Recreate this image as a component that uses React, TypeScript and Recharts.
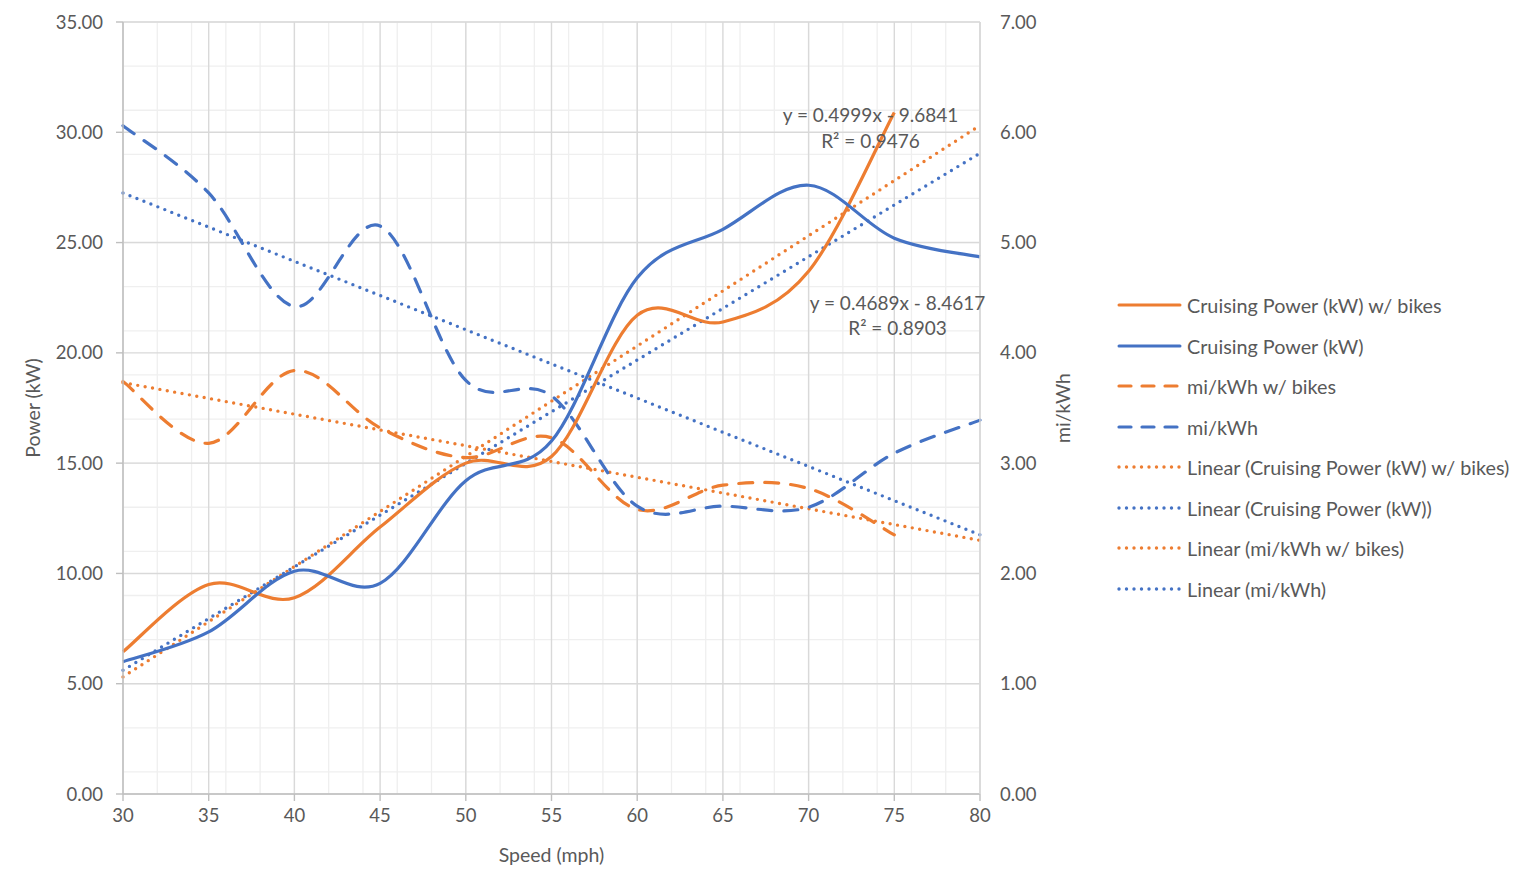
import React from "react";
import {
  LineChart,
  Line,
  XAxis,
  YAxis,
  CartesianGrid,
  Legend,
  ReferenceDot,
} from "recharts";

const FONT = "Lato, 'Open Sans', sans-serif";
const TEXT = "#595959";
const ORANGE = "#ED7D31";
const BLUE = "#4472C4";

// speeds on the x axis (mph)
const speeds = [30, 35, 40, 45, 50, 55, 60, 65, 70, 75, 80];

// left axis, kW
const powerWithBikes = [6.45, 9.5, 8.9, 12.1, 15.0, 15.3, 21.7, 21.4, 23.7, 30.9, null];
const power = [6.0, 7.35, 10.1, 9.55, 14.2, 16.0, 23.4, 25.6, 27.6, 25.2, 24.35];

// right axis, mi/kWh
const miPerKWhWithBikes = [3.74, 3.18, 3.84, 3.32, 3.05, 3.23, 2.58, 2.8, 2.77, 2.35, null];
const miPerKWh = [6.06, 5.45, 4.42, 5.15, 3.75, 3.61, 2.61, 2.61, 2.6, 3.09, 3.39];

// trendline end values at 30 and 80 mph
const trendPowerWithBikes = [5.31, 30.31];
const trendPower = [5.61, 29.05];
const trendMiWithBikes = [3.73, 2.3];
const trendMi = [5.45, 2.35];

const speedTicks = [30, 35, 40, 45, 50, 55, 60, 65, 70, 75, 80];
const powerTicks = [0, 5, 10, 15, 20, 25, 30, 35];
const miTicks = [0, 1, 2, 3, 4, 5, 6, 7];
const minorSpeedTicks = Array.from({ length: 51 }, (_, i) => 30 + i);
const minorPowerTicks = Array.from({ length: 36 }, (_, i) => i);

const last = speeds.length - 1;
const ends = (arr: number[], i: number) => (i === 0 ? arr[0] : i === last ? arr[1] : null);

const data = speeds.map((speed, i) => ({
  speed,
  powerWithBikes: powerWithBikes[i],
  power: power[i],
  miWithBikes: miPerKWhWithBikes[i],
  mi: miPerKWh[i],
  trendPowerWithBikes: ends(trendPowerWithBikes, i),
  trendPower: ends(trendPower, i),
  trendMiWithBikes: ends(trendMiWithBikes, i),
  trendMi: ends(trendMi, i),
}));

// Excel style smoothing (catmull-rom, 1/6 tangents)
function excelSmooth(context: any) {
  let pts: number[][] = [];
  return {
    areaStart() {},
    areaEnd() {},
    lineStart() {
      pts = [];
    },
    lineEnd() {
      if (!pts.length) return;
      context.moveTo(pts[0][0], pts[0][1]);
      for (let i = 0; i < pts.length - 1; i++) {
        const p0 = pts[i - 1] || pts[i];
        const p1 = pts[i];
        const p2 = pts[i + 1];
        const p3 = pts[i + 2] || p2;
        context.bezierCurveTo(
          p1[0] + (p2[0] - p0[0]) / 6,
          p1[1] + (p2[1] - p0[1]) / 6,
          p2[0] - (p3[0] - p1[0]) / 6,
          p2[1] - (p3[1] - p1[1]) / 6,
          p2[0],
          p2[1]
        );
      }
    },
    point(x: number, y: number) {
      pts.push([+x, +y]);
    },
  };
}

const DASH = "14 12";
const DOT = "0 7.5";
const DOT_W = 3.4;

const legendItems = [
  { name: "Cruising Power (kW) w/ bikes", color: ORANGE, dash: undefined, w: 3 },
  { name: "Cruising Power (kW)", color: BLUE, dash: undefined, w: 3 },
  { name: "mi/kWh w/ bikes", color: ORANGE, dash: "12 11", w: 3.2 },
  { name: "mi/kWh", color: BLUE, dash: "12 11", w: 3.2 },
  { name: "Linear (Cruising Power (kW) w/ bikes)", color: ORANGE, dash: DOT, w: DOT_W },
  { name: "Linear (Cruising Power (kW))", color: BLUE, dash: DOT, w: DOT_W },
  { name: "Linear (mi/kWh w/ bikes)", color: ORANGE, dash: DOT, w: DOT_W },
  { name: "Linear (mi/kWh)", color: BLUE, dash: DOT, w: DOT_W },
];

function LegendBox() {
  return (
    <div style={{ paddingLeft: 9, paddingTop: 6, fontFamily: FONT }}>
      {legendItems.map((it) => (
        <div key={it.name} style={{ display: "flex", alignItems: "center", height: 40.5 }}>
          <svg width={66} height={10}>
            <line
              x1={2}
              y1={5}
              x2={63}
              y2={5}
              stroke={it.color}
              strokeWidth={it.w}
              strokeDasharray={it.dash}
              strokeLinecap="round"
            />
          </svg>
          <span style={{ marginLeft: 4, fontSize: 19.8, color: TEXT, whiteSpace: "nowrap" }}>{it.name}</span>
        </div>
      ))}
    </div>
  );
}

const eqLabel = (value: string) => ({ value, position: "center" as const, fill: TEXT, fontSize: 19 });

export default function App() {
  return (
    <LineChart
      width={1520}
      height={872}
      data={data}
      margin={{ top: 14, right: 10, bottom: 16, left: 10 }}
      style={{ fontFamily: FONT }}
    >
      <CartesianGrid
        yAxisId="left"
        horizontalValues={minorPowerTicks}
        verticalValues={minorSpeedTicks}
        stroke="#efefef"
        strokeWidth={1.3}
      />
      <CartesianGrid yAxisId="left" stroke="#d9d9d9" strokeWidth={1.4} />
      <XAxis
        type="number"
        dataKey="speed"
        domain={[30, 80]}
        ticks={speedTicks}
        tick={{ fill: TEXT, fontSize: 18.5 }}
        axisLine={{ stroke: "#bfbfbf", strokeWidth: 1.4 }}
        tickLine={{ stroke: "#bfbfbf", strokeWidth: 1.4 }}
        tickSize={7}
        tickMargin={8}
        height={70}
        label={{ value: "Speed (mph)", position: "insideBottom", offset: 2, fill: TEXT, fontSize: 19.5 }}
      />
      <YAxis
        yAxisId="left"
        type="number"
        domain={[0, 35]}
        ticks={powerTicks}
        tickFormatter={(v: number) => v.toFixed(2)}
        tick={{ fill: TEXT, fontSize: 18.5 }}
        axisLine={{ stroke: "#bfbfbf", strokeWidth: 1.4 }}
        tickLine={{ stroke: "#bfbfbf", strokeWidth: 1.4 }}
        tickSize={7}
        tickMargin={13}
        width={105}
        label={{
          value: "Power (kW)",
          angle: -90,
          position: "insideLeft",
          offset: 15,
          fill: TEXT,
          fontSize: 19.5,
          style: { textAnchor: "middle" },
        }}
      />
      <YAxis
        yAxisId="right"
        orientation="right"
        type="number"
        domain={[0, 7]}
        ticks={miTicks}
        tickFormatter={(v: number) => v.toFixed(2)}
        tick={{ fill: TEXT, fontSize: 18.5 }}
        axisLine={{ stroke: "#d9d9d9", strokeWidth: 1.4 }}
        tickLine={false}
        tickSize={7}
        tickMargin={13}
        width={128}
        label={{
          value: "mi/kWh",
          angle: -90,
          position: "insideRight",
          offset: 45,
          fill: TEXT,
          fontSize: 19.5,
          style: { textAnchor: "middle" },
        }}
      />
      <Legend
        layout="vertical"
        align="right"
        verticalAlign="middle"
        width={410}
        content={() => <LegendBox />}
      />

      <Line yAxisId="left" dataKey="trendPowerWithBikes" type="linear" connectNulls stroke={ORANGE} strokeWidth={DOT_W} strokeDasharray={DOT} strokeLinecap="round" dot={false} isAnimationActive={false} />
      <Line yAxisId="left" dataKey="trendPower" type="linear" connectNulls stroke={BLUE} strokeWidth={DOT_W} strokeDasharray={DOT} strokeLinecap="round" dot={false} isAnimationActive={false} />
      <Line yAxisId="right" dataKey="trendMiWithBikes" type="linear" connectNulls stroke={ORANGE} strokeWidth={DOT_W} strokeDasharray={DOT} strokeLinecap="round" dot={false} isAnimationActive={false} />
      <Line yAxisId="right" dataKey="trendMi" type="linear" connectNulls stroke={BLUE} strokeWidth={DOT_W} strokeDasharray={DOT} strokeLinecap="round" dot={false} isAnimationActive={false} />

      <Line yAxisId="right" dataKey="miWithBikes" type={excelSmooth as any} stroke={ORANGE} strokeWidth={3.2} strokeDasharray={DASH} strokeLinecap="round" dot={false} isAnimationActive={false} />
      <Line yAxisId="right" dataKey="mi" type={excelSmooth as any} stroke={BLUE} strokeWidth={3.2} strokeDasharray={DASH} strokeLinecap="round" dot={false} isAnimationActive={false} />
      <Line yAxisId="left" dataKey="powerWithBikes" type={excelSmooth as any} stroke={ORANGE} strokeWidth={3.2} dot={false} isAnimationActive={false} />
      <Line yAxisId="left" dataKey="power" type={excelSmooth as any} stroke={BLUE} strokeWidth={3.2} dot={false} isAnimationActive={false} />

      <ReferenceDot yAxisId="left" x={73.61} y={30.78} r={0} fill="none" stroke="none" label={eqLabel("y = 0.4999x - 9.6841")} />
      <ReferenceDot yAxisId="left" x={73.61} y={29.6} r={0} fill="none" stroke="none" label={eqLabel("R² = 0.9476")} />
      <ReferenceDot yAxisId="left" x={75.19} y={22.26} r={0} fill="none" stroke="none" label={eqLabel("y = 0.4689x - 8.4617")} />
      <ReferenceDot yAxisId="left" x={75.19} y={21.13} r={0} fill="none" stroke="none" label={eqLabel("R² = 0.8903")} />
    </LineChart>
  );
}
